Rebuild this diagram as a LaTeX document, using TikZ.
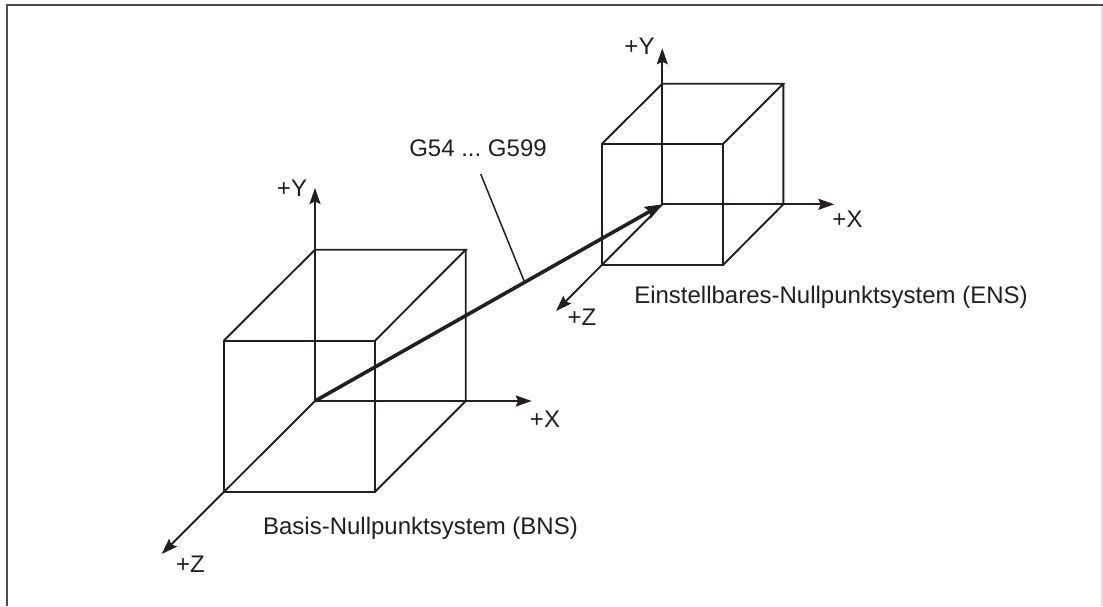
\documentclass[tikz,border=0pt]{standalone}
\usepackage{fontspec}
\setmainfont{Liberation Sans}
\usetikzlibrary{arrows.meta}
\definecolor{ink}{HTML}{231F20}
\frenchspacing
\tikzset{
  x=1pt,y=-1pt,
  cubeline/.style={draw=ink,line width=1.9pt,line join=miter},
  axis/.style={draw=ink,line width=1.9pt,-{Stealth[length=16pt,width=11pt,inset=2.5pt]}},
  offset/.style={draw=ink,line width=3.6pt,-{Stealth[length=17pt,width=13pt,inset=2.5pt]}},
  leader/.style={draw=ink,line width=1.5pt},
  frame/.style={draw=ink!80,line width=2.2pt},
  faintframe/.style={draw=black!12,line width=1.2pt},
  lbl/.style={inner sep=0pt,text=ink,font=\fontsize{24pt}{28pt}\selectfont}
}
\begin{document}
\begin{tikzpicture}
\useasboundingbox (0,0) rectangle (1103,606);
\coordinate (fa) at (7,606);
\coordinate (fb) at (7,5);
\coordinate (fc) at (1103,5);
\coordinate (fd) at (1102,5);
\coordinate (fe) at (1102,606);
\draw[faintframe] (fd) -- (fe);
\draw[frame] (fa) -- (fb) -- (fc);
% first cube
\coordinate (o1) at (315,401);
\coordinate (t1) at (315,249.7);
\coordinate (r1) at (465.7,401);
\coordinate (tr1) at (465.7,249.7);
\coordinate (fbl1) at (223.7,491.7);
\coordinate (ftl1) at (223.7,340.7);
\coordinate (ftr1) at (375,340.7);
\coordinate (fbr1) at (375,491.7);
\coordinate (ty1) at (315,188);
\coordinate (tx1) at (531.7,401);
\coordinate (tz1) at (161.7,554);
\draw[cubeline] (fbl1) -- (ftl1) -- (ftr1) -- (fbr1) -- cycle;
\draw[cubeline] (ftl1) -- (t1) -- (tr1) -- (ftr1);
\draw[cubeline] (tr1) -- (r1) -- (fbr1);
\draw[axis] (o1) -- (ty1);
\draw[axis] (o1) -- (tx1);
\draw[axis] (o1) -- (tz1);
% second cube
\coordinate (o2) at (662.3,204.3);
\coordinate (t2) at (662.3,83.7);
\coordinate (r2) at (783.3,204.3);
\coordinate (tr2) at (783.3,83.7);
\coordinate (fbl2) at (601.7,265);
\coordinate (ftl2) at (601.7,144);
\coordinate (ftr2) at (723,144);
\coordinate (fbr2) at (723,265);
\coordinate (ty2) at (662.3,48.3);
\coordinate (tx2) at (834.3,204.3);
\coordinate (tz2) at (556,311);
\draw[cubeline] (fbl2) -- (ftl2) -- (ftr2) -- (fbr2) -- cycle;
\draw[cubeline] (ftl2) -- (t2) -- (tr2) -- (ftr2);
\draw[cubeline] (tr2) -- (r2) -- (fbr2);
\draw[axis] (o2) -- (ty2);
\draw[axis] (o2) -- (tx2);
\draw[axis] (o2) -- (tz2);
% offset
\draw[offset] (o1) -- (o2);
\coordinate (la) at (480.7,174);
\coordinate (lb) at (524,280.7);
\draw[leader] (la) -- (lb);
% labels
\node[lbl,anchor=center] (yl1) at (292,188.5) {+Y};
\node[lbl,anchor=center] (xl1) at (545,419.5) {+X};
\node[lbl,anchor=center] (zl1) at (190.5,564.5) {+Z};
\node[lbl,anchor=center] (yl2) at (639.5,46) {+Y};
\node[lbl,anchor=center] (xl2) at (847.5,219.5) {+X};
\node[lbl,anchor=center] (zl2) at (582,317) {+Z};
\node[lbl,anchor=center] (gl) at (478,148) {G54 ... G599};
\node[lbl,anchor=center] (bns) at (420.5,528) {Basis-Nullpunktsystem (BNS)};
\node[lbl,anchor=center] (ens) at (831,297) {Einstellbares-Nullpunktsystem (ENS)};
\end{tikzpicture}
\end{document}
